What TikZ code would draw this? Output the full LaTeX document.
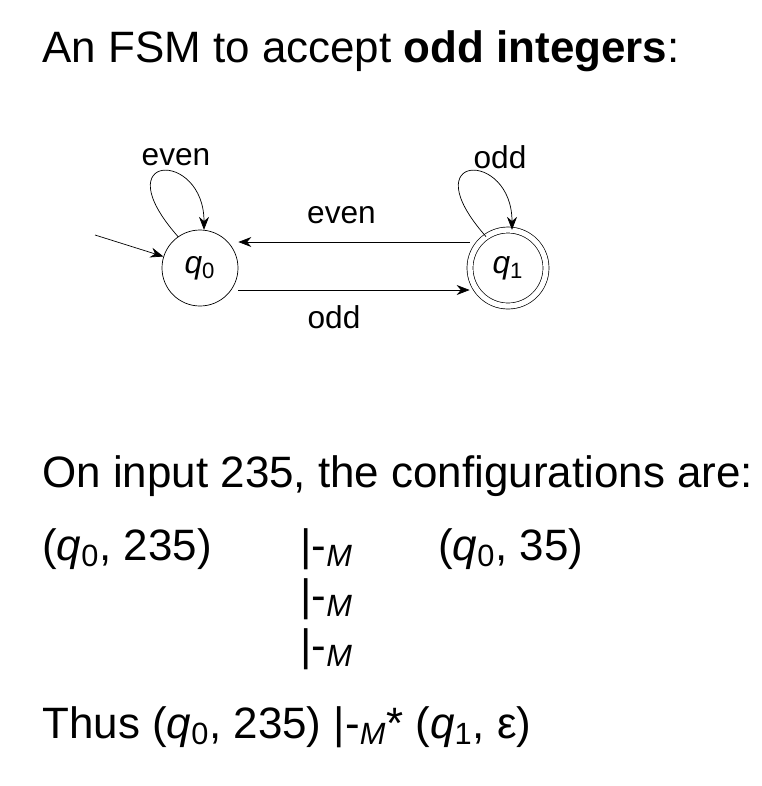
\documentclass[tikz,border=0pt]{standalone}
\usepackage{fontspec}
\setmainfont{Liberation Sans}
\usetikzlibrary{arrows.meta}

\begin{document}
\begin{tikzpicture}[
    every node/.style={inner sep=0pt},
    state/.style={circle, draw=black, minimum size=1.52cm, font=\fontsize{18}{21}\selectfont},
    edge/.style={-{Stealth[length=2.6mm,width=2mm]}},
    small/.style={font=\fontsize{18}{21}\selectfont},
    big/.style={font=\fontsize{25}{30}\selectfont, anchor=base west}
  ]
  \useasboundingbox (0,0) rectangle (15.24,-15.72);

  \node[big] (title) at (0.84,-1.24) {An FSM to accept \textbf{odd integers}:};

  % the machine
  \node[state] (q0) at (4.0,-5.36) {\textit{q}\textsubscript{0}};
  \node[state, double, double distance=3pt] (q1) at (10.16,-5.36) {\textit{q}\textsubscript{1}};
  \coordinate (start) at (1.9,-4.7);
  \draw[edge] (start) -- (q0);
  \draw[edge] ([yshift=0.52cm]q1.west) -- node[small, above=0.36cm, xshift=-0.25cm] (leven) {even} ([yshift=0.52cm]q0.east);
  \draw[edge] ([yshift=-0.44cm]q0.east) -- node[small, below=0.3cm, xshift=-0.4cm] (lodd) {odd} ([yshift=-0.44cm]q1.west);
  \draw[edge] (q0.125) .. controls +(-1.5,1.7) and +(0,1.6) .. (q0.84);
  \draw[edge] (q1.125) .. controls +(-1.5,1.7) and +(0,1.6) .. (q1.84);
  \node[small] (loop0) at (3.52,-3.14) {even};
  \node[small] (loop1) at (10.0,-3.14) {odd};

  % the configurations
  \node[big] (intro) at (0.84,-9.74) {On input 235, the configurations are:};
  \node[big] (c0) at (0.84,-11.2) {(\textit{q}\textsubscript{0}, 235)};
  \node[big] (s1) at (6.0,-11.2) {|-\textsubscript{\itshape M}};
  \node[big] (c1) at (8.76,-11.2) {(\textit{q}\textsubscript{0}, 35)};
  \node[big] (s2) at (6.0,-12.2) {|-\textsubscript{\itshape M}};
  \node[big] (s3) at (6.0,-13.2) {|-\textsubscript{\itshape M}};
  \node[big] (thus) at (0.84,-14.76) {Thus (\textit{q}\textsubscript{0}, 235) |-\textsubscript{\itshape M}* (\textit{q}\textsubscript{1}, ε)};
\end{tikzpicture}
\end{document}
